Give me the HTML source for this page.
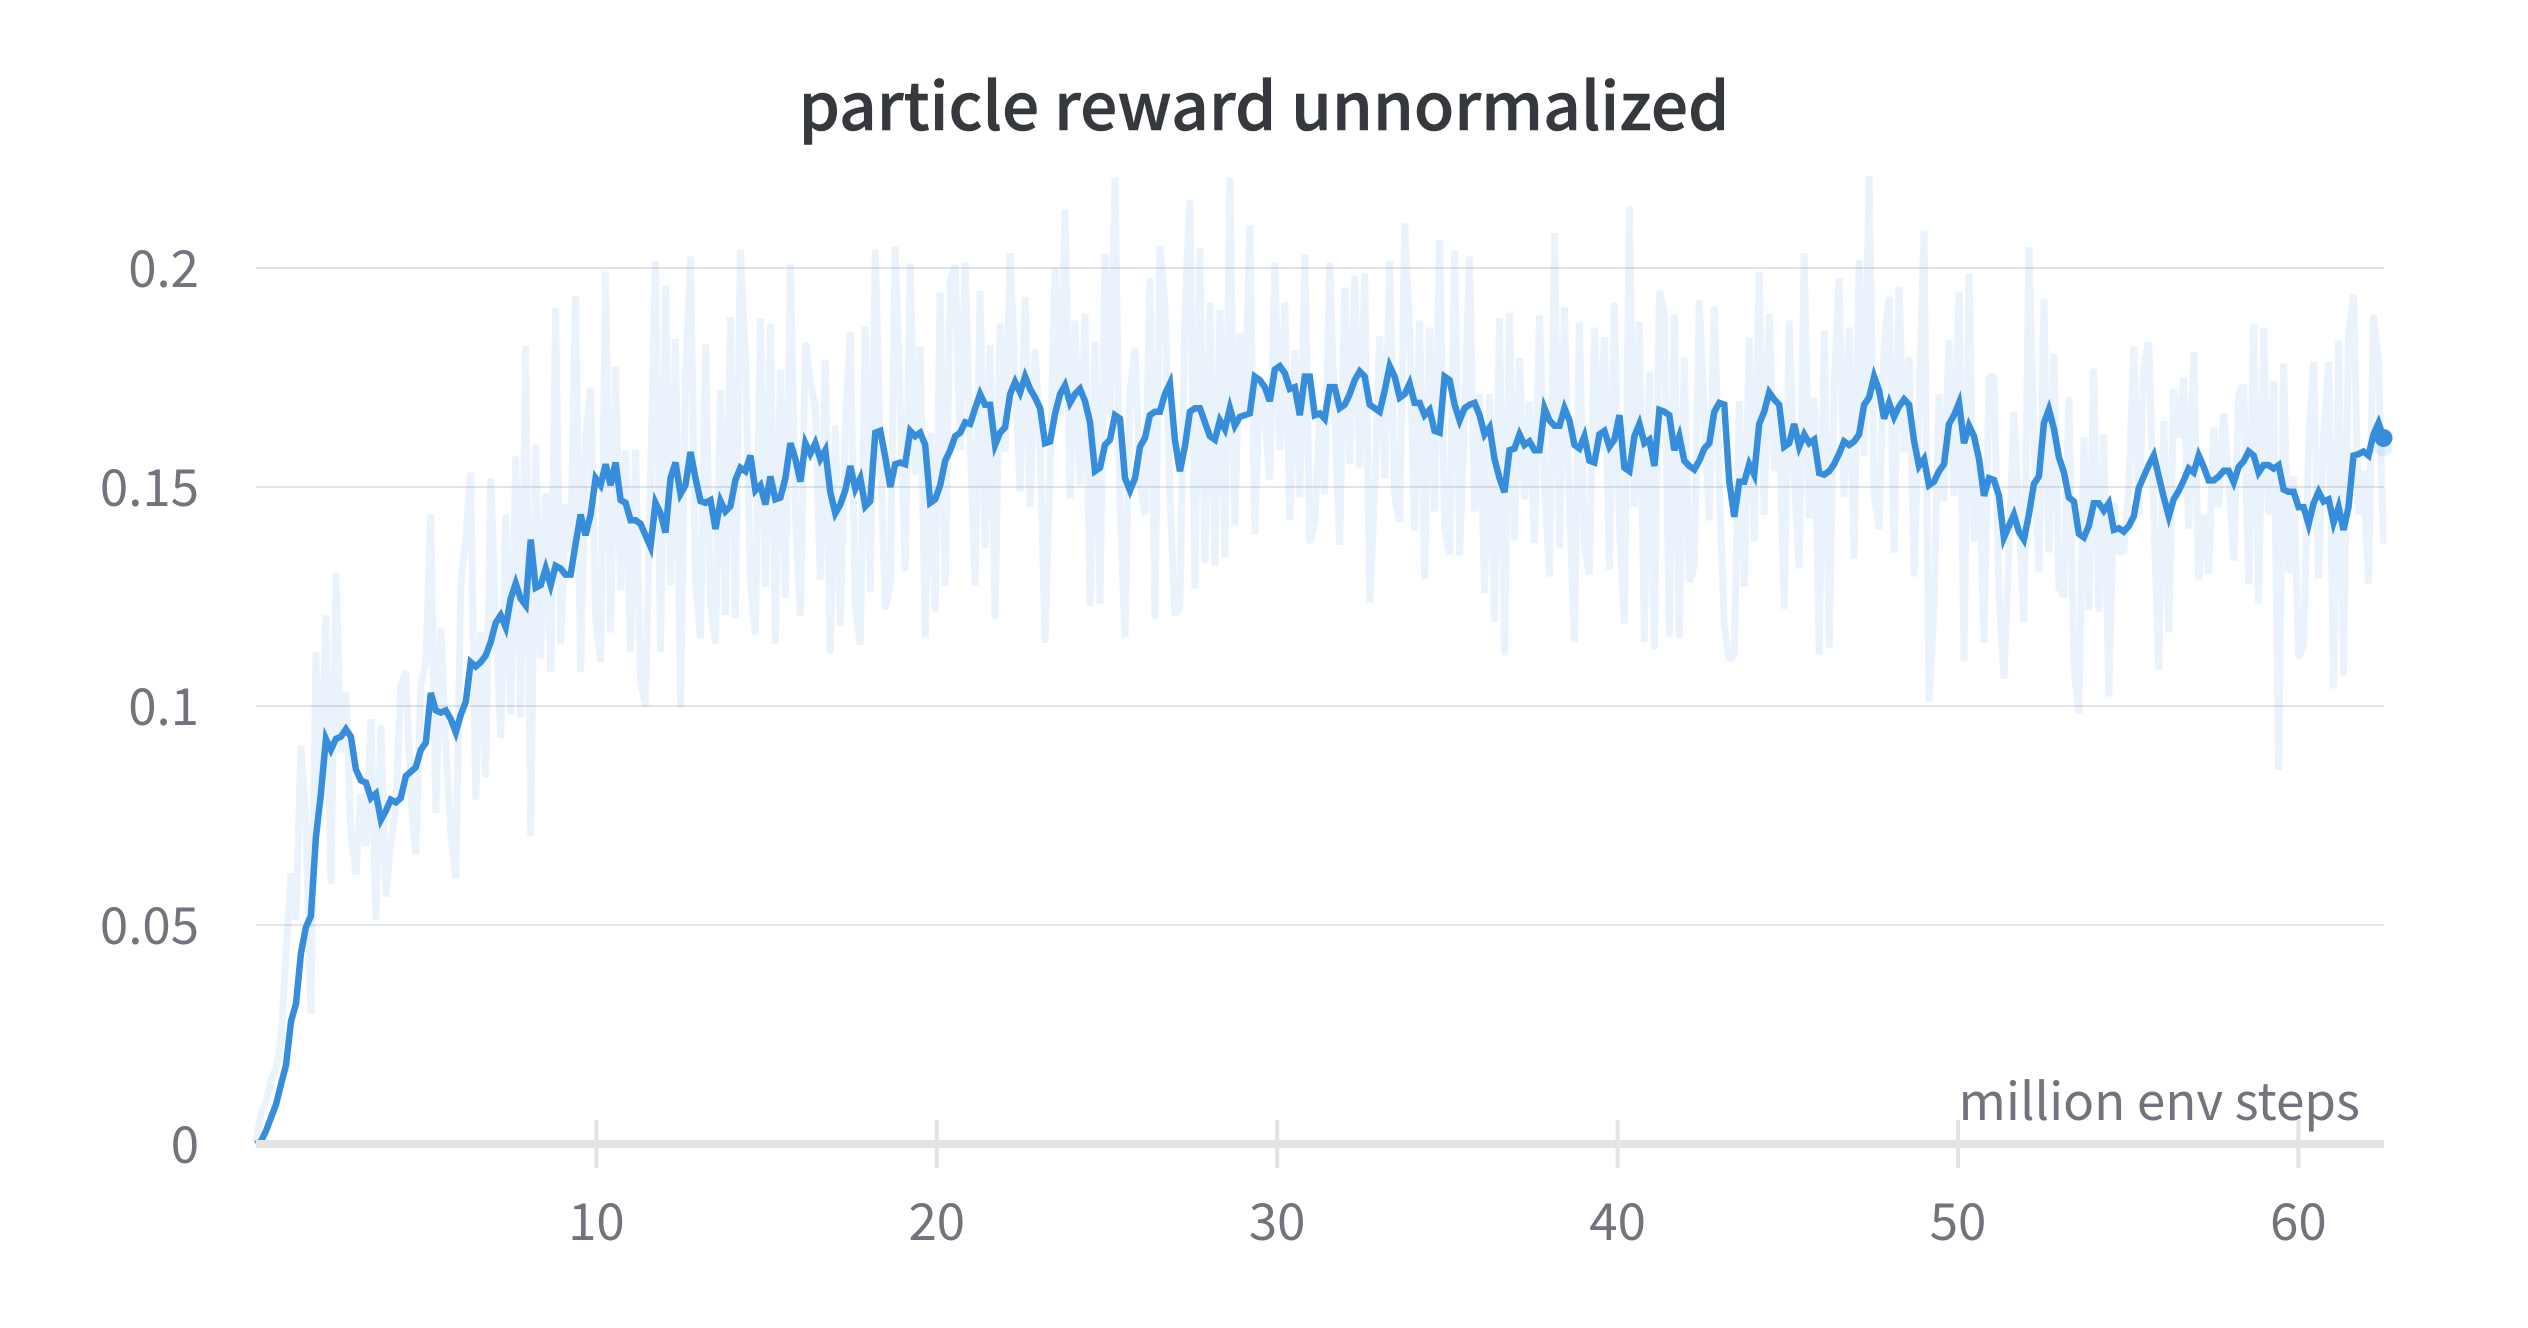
<!DOCTYPE html>
<html lang="en">
<head>
<meta charset="utf-8">
<title>particle reward unnormalized</title>
<style>
html,body{margin:0;padding:0;background:#fff;width:2528px;height:1328px;overflow:hidden}
svg{display:block}
text{font-family:"Noto Sans CJK JP","Noto Sans CJK SC","Liberation Sans",sans-serif}
</style>
</head>
<body>
<svg id="chart" width="2528" height="1328" viewBox="0 0 2528 1328" xmlns="http://www.w3.org/2000/svg">
  <rect width="2528" height="1328" fill="#ffffff"/>
  <text x="1264" y="130" text-anchor="middle" font-size="65.7" font-weight="500" fill="#35383c" stroke="#35383c" stroke-width="0.6">particle reward unnormalized</text>
  <g id="grid"></g>
  <g id="series"></g>
  <g id="axes"></g>
  <text x="2360" y="1120" text-anchor="end" font-size="51.2" font-weight="400" fill="#72737c">million env steps</text>
</svg>
<script>
const xTicks = [10, 20, 30, 40, 50, 60];
const yTicks = [0, 0.05, 0.1, 0.15, 0.2];
const yTickLabels = ["0", "0.05", "0.1", "0.15", "0.2"];
const xMax = 62.5;
const smoothedReward = [
0,.0006,.003,.006,.009,.0136,.018,.028,.032,.0435,.0495,.052,.07,.08,.0925,.09,.0925,.093,.0947,.093,
.0855,.083,.0825,.079,.08,.074,.076,.0786,.078,.079,.084,.085,.086,.09,.0916,.103,.099,.0985,.099,.097,
.094,.098,.101,.11,.109,.11,.1115,.1146,.119,.1207,.118,.1245,.128,.1245,.123,.138,.127,.1276,.1314,.1276,
.132,.1314,.13,.13,.137,.1437,.139,.1437,.152,
.1504,.1552,.1504,.1556,.147,.1464,.1424,.1424,.1416,.139,.1364,.1464,.144,.1396,.152,.1556,.1484,.1504,.158,.152,
.1468,.1464,.147,.1404,.1468,.1444,.1456,.1516,.1544,.1536,.1572,.1492,.1504,.146,.1524,.1472,.1476,.152,.16,.1564,
.1512,.16,.1576,.16,.1564,.1584,.1488,.144,.146,.1492,.1548,.1496,.152,.1456,.1468,.1624,.1628,.1568,.15,.1552,
.1556,.1552,.1628,.1616,.1624,.1596,.1464,.1472,.1504,.156,.1584,.1616,
.1624,.1648,.1644,.168,.1712,.1688,.1688,.1596,.1624,.1636,.1712,.174,.1716,.1752,.1724,.1704,.168,.16,.1604,.1668,
.1712,.1732,.1692,.1712,.1724,.1696,.1648,.1536,.1544,.1596,.1608,.1664,.1656,.152,.1492,.152,.1592,.1612,.1664,.1672,
.1672,.1712,.1736,.1608,.1536,.1592,.1672,.168,.168,.1648,.1616,.1608,.1652,.1632,.168,.164,.166,.1664,.1668,.1752,
.1744,.1728,.1696,.1768,.1776,.176,.1724,.1728,.1664,.1752,
.1752,.1664,.1668,.1656,.1728,.1728,.168,.1688,.1712,.1744,.1764,.1752,.1688,.168,.1672,.172,.1776,.1752,.1704,.1712,
.1736,.1692,.1692,.1664,.1676,.1628,.1624,.1752,.1744,.1688,.1652,.168,.1688,.1692,.1664,.162,.1636,.1564,.152,.1488,
.1584,.1588,.162,.1596,.1604,.1584,.1584,.168,.1652,.164,.164,.168,.1652,.1596,.1588,.1616,.156,.1556,.162,.1628,
.1592,.1608,.1664,.1544,.1536,.1616,.1644,.16,.1608,.1548,
.1676,.1672,.1664,.1584,.1616,.156,.1548,.154,.156,.1588,.16,.1672,.1692,.1688,.1512,.1432,.1512,.1512,.1552,.1528,
.1644,.1672,.1716,.17,.1688,.1592,.16,.1644,.1592,.162,.16,.1608,.1532,.1528,.1536,.1552,.1576,.1604,.1596,.1604,
.162,.1688,.1704,.1752,.172,.1656,.1692,.166,.1684,.17,.1688,.1604,.1548,.1564,.1504,.1512,.1536,.1552,.1644,.1664,
.1692,.16,.164,.1616,.1564,.148,.152,.1516,.148,.1384,
.1411,.1437,.1398,.138,.1437,.1507,.1524,.1646,.1677,.1633,.1568,.1533,.1476,.1467,.1393,.1385,.1411,.1463,.1463,.1446,
.1463,.1402,.1406,.1398,.1411,.1433,.1498,.1524,.155,.1572,.1524,.1476,.1433,.1472,.1491,.1515,.1542,.1533,.1572,.1546,
.1515,.1515,.1524,.1537,.1537,.1511,.1546,.1559,.1581,.1572,.1533,.155,.155,.1542,.155,.1494,.1489,.1489,.1454,.1454,
.1415,.1463,.1489,.1467,.1472,.1419,.1454,.1402,.1454,.1572,.1575,.1581,.1572,.162,.1646,.1612
];
const rawReward = [
0,.007,.0098,.0144,.0174,.0236,.0435,.0618,.0511,.0909,.074,.0297,.1123,.077,.1207,.0595,.1304,.0894,.1031,.071,
.0615,.08,.068,.097,.0511,.0955,.0565,.0687,.077,.1047,.108,.08,.0661,.1047,.11,.1437,.0756,.1177,.0909,.071,
.0606,.1276,.1386,.1533,.0786,.1169,.0837,.152,.12,.0927,.1437,.098,.157,.0973,.1822,.0702,.1597,.1108,.1486,.1077,
.1908,.1141,.146,.1353,.1937,.1077,.1613,.1727,.12,
.11,.1992,.1168,.1774,.1264,.1584,.1124,.1584,.106,.1,.152,.2016,.1124,.196,.1276,.1838,.0996,.1752,.2026,.128,
.1156,.1826,.1232,.1142,.1722,.1208,.1888,.12,.2042,.18,.128,.1164,.1884,.1272,.1872,.1142,.1768,.1246,.2008,.1436,
.1206,.183,.1744,.168,.1288,.179,.112,.164,.1184,.1632,.1854,.1224,.114,.1866,.126,.2042,.1584,.122,.128,.2048,
.1688,.1308,.201,.1528,.182,.1156,.1624,.1216,.1944,.1274,.1972,.2006,
.1584,.2012,.16,.1276,.1948,.136,.1824,.12,.1874,.158,.2034,.1744,.149,.1934,.1454,.1814,.16,.1144,.1548,.2,
.1664,.2134,.1474,.188,.1504,.1896,.1228,.1832,.1232,.2032,.1664,.2206,.1458,.1156,.1718,.1818,.1504,.1436,.1976,.12,
.205,.192,.1484,.1208,.1224,.1904,.2156,.1268,.2046,.1328,.1922,.132,.1904,.134,.2206,.1412,.1852,.1664,.2098,.1392,
.1744,.1664,.1516,.2012,.1584,.1922,.1424,.1812,.1476,.203,
.1372,.142,.1664,.1484,.2012,.1664,.1368,.1956,.1552,.1982,.1544,.1988,.1236,.1492,.1844,.152,.2016,.148,.142,.2102,
.1856,.14,.188,.129,.1864,.1444,.2064,.1404,.1346,.204,.1344,.1664,.2026,.1444,.1712,.1258,.1712,.1192,.1886,.1116,
.1898,.1378,.1796,.1472,.1696,.1372,.1892,.1504,.1296,.208,.136,.191,.1464,.1146,.1876,.1368,.13,.1864,.1584,.1842,
.1312,.192,.1416,.1188,.214,.1456,.1878,.1146,.1764,.113,
.1948,.19,.1158,.1894,.1154,.1796,.1282,.132,.1926,.1664,.1424,.1912,.1504,.1184,.1104,.1116,.1696,.1272,.184,.1376,
.1992,.1436,.1896,.1536,.1664,.1222,.188,.152,.1314,.2034,.1428,.1704,.1118,.1856,.1132,.1728,.1976,.1476,.1864,.1336,
.2018,.1572,.221,.148,.1404,.1824,.1934,.135,.1958,.158,.1796,.1296,.1688,.2086,.101,.122,.1712,.1468,.1836,.148,
.1946,.1102,.1988,.1376,.1584,.1144,.1752,.1752,.1256,.1062,
.135,.1671,.1437,.1191,.2048,.1612,.1306,.193,.135,.1804,.1271,.1249,.1706,.1088,.0983,.1614,.1219,.177,.1216,.162,
.1022,.1463,.135,.1354,.1498,.1821,.1437,.1777,.183,.1437,.1083,.1651,.1169,.1723,.1612,.1751,.1405,.1808,.1287,.1437,
.1302,.1636,.1454,.1668,.1524,.1332,.1708,.1734,.1277,.1871,.1234,.1862,.1437,.1742,.0854,.1782,.1304,.1524,.111,.1142,
.1594,.1786,.1291,.1612,.1786,.104,.1834,.107,.1847,.1939,.1437,.1537,.128,.1893,.1783,.1371
];
const lastRawDotValue = 0.159;

const plotLeft = 256, plotRight = 2384, yZero = 1144, yPerUnit = 4380, xPerMillion = 34.04;
const SVG_NS = "http://www.w3.org/2000/svg";
function xScale(v) { return plotLeft + v * xPerMillion; }
function yScale(v) { return yZero - v * yPerUnit; }
function seriesPoints(values) {
  const last = values.length - 1;
  return values.map(function (v, i) {
    return xScale(xMax * i / last).toFixed(1) + "," + yScale(v).toFixed(1);
  }).join(" ");
}
function make(tag, attrs) {
  const el = document.createElementNS(SVG_NS, tag);
  for (const k in attrs) el.setAttribute(k, attrs[k]);
  return el;
}
const gridLayer = document.getElementById("grid");
const seriesLayer = document.getElementById("series");
const axesLayer = document.getElementById("axes");

yTicks.forEach(function (v, i) {
  if (v !== 0) {
    const line = make("line", { x1: plotLeft, x2: plotRight, y1: yScale(v), y2: yScale(v), stroke: "#e3e4e8", "stroke-width": 2 });
    
    
    gridLayer.appendChild(line);
  }
  const label = make("text", { x: 199, y: yScale(v) + 19, "text-anchor": "end", "font-size": 51, "font-weight": 400, fill: "#72737c" });
  label.textContent = yTickLabels[i];
  
  
  axesLayer.appendChild(label);
});

const rawLine = make("polyline", { points: seriesPoints(rawReward), fill: "none", stroke: "#368ddb", "stroke-opacity": 0.105, "stroke-width": 7, "stroke-linejoin": "bevel" });


seriesLayer.appendChild(rawLine);

const smoothLine = make("polyline", { points: seriesPoints(smoothedReward), fill: "none", stroke: "#368ddb", "stroke-width": 6.5, "stroke-linejoin": "miter" });


seriesLayer.appendChild(smoothLine);

const rawDot = make("circle", { cx: xScale(xMax), cy: yScale(lastRawDotValue), r: 9, fill: "#368ddb", "fill-opacity": 0.12 });


seriesLayer.appendChild(rawDot);

const endDot = make("circle", { cx: xScale(xMax), cy: yScale(smoothedReward[smoothedReward.length - 1]), r: 9, fill: "#368ddb" });


seriesLayer.appendChild(endDot);

const axisLine = make("line", { x1: plotLeft, x2: plotRight, y1: yZero, y2: yZero, stroke: "#e4e4e6", "stroke-width": 8 });


axesLayer.appendChild(axisLine);

xTicks.forEach(function (t) {
  const tick = make("line", { x1: xScale(t), x2: xScale(t), y1: yZero - 24, y2: yZero + 24, stroke: "#e4e4e6", "stroke-width": 4 });
  
  
  axesLayer.appendChild(tick);
  const label = make("text", { x: xScale(t), y: 1240, "text-anchor": "middle", "font-size": 51, "font-weight": 400, fill: "#72737c" });
  label.textContent = String(t);
  
  
  axesLayer.appendChild(label);
});
</script>
</body>
</html>
